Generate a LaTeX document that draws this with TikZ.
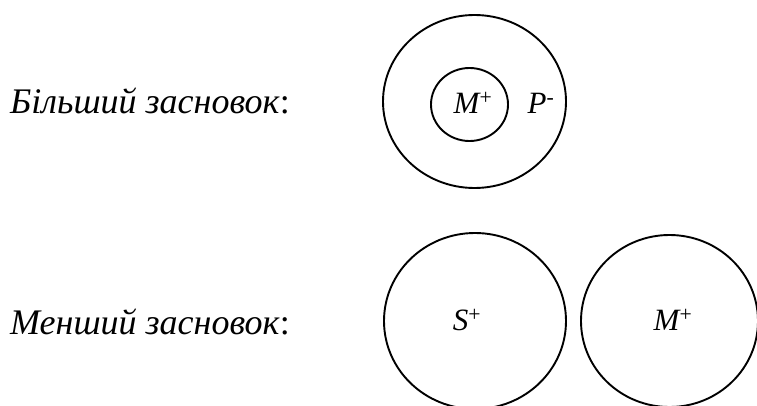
\documentclass[tikz,border=0pt]{standalone}
\usepackage{fontspec}
\setmainfont{Liberation Serif}
\usepackage{tikz}
\usetikzlibrary{shapes.geometric}

\tikzset{
    circ/.style={draw,ellipse,line width=1.9pt,inner sep=0pt},
    lab/.style={font=\fontsize{31}{36}\selectfont\itshape,inner sep=0pt},
    premise/.style={font=\fontsize{36}{42}\selectfont,anchor=base west,inner sep=0pt}
}

\begin{document}
\begin{tikzpicture}[x=1pt,y=1pt]
    \useasboundingbox (0,0) rectangle (757,405);
    % larger premise
    \node[premise] (major) at (10,291) {\textit{Більший засновок}:};
    \node[circ,minimum width=183,minimum height=173] (outerP) at (474.5,303.5) {};
    \node[circ,minimum width=77,minimum height=73] (innerM) at (469.5,300.5) {};
    \node[lab] (labM) at (473,302) {M\textsuperscript{\upshape+}};
    \node[lab] (labP) at (541,302) {P\textsuperscript{\upshape-}};
    % smaller premise
    \node[premise] (minor) at (10,71) {\textit{Менший засновок}:};
    \node[circ,minimum width=182,minimum height=176] (circS) at (475,84) {};
    \node[circ,minimum width=177,minimum height=172] (circM) at (669.5,84) {};
    \node[lab] (labS) at (467,85) {S\textsuperscript{\upshape+}};
    \node[lab] (labMm) at (673,85) {M\textsuperscript{\upshape+}};
\end{tikzpicture}
\end{document}
